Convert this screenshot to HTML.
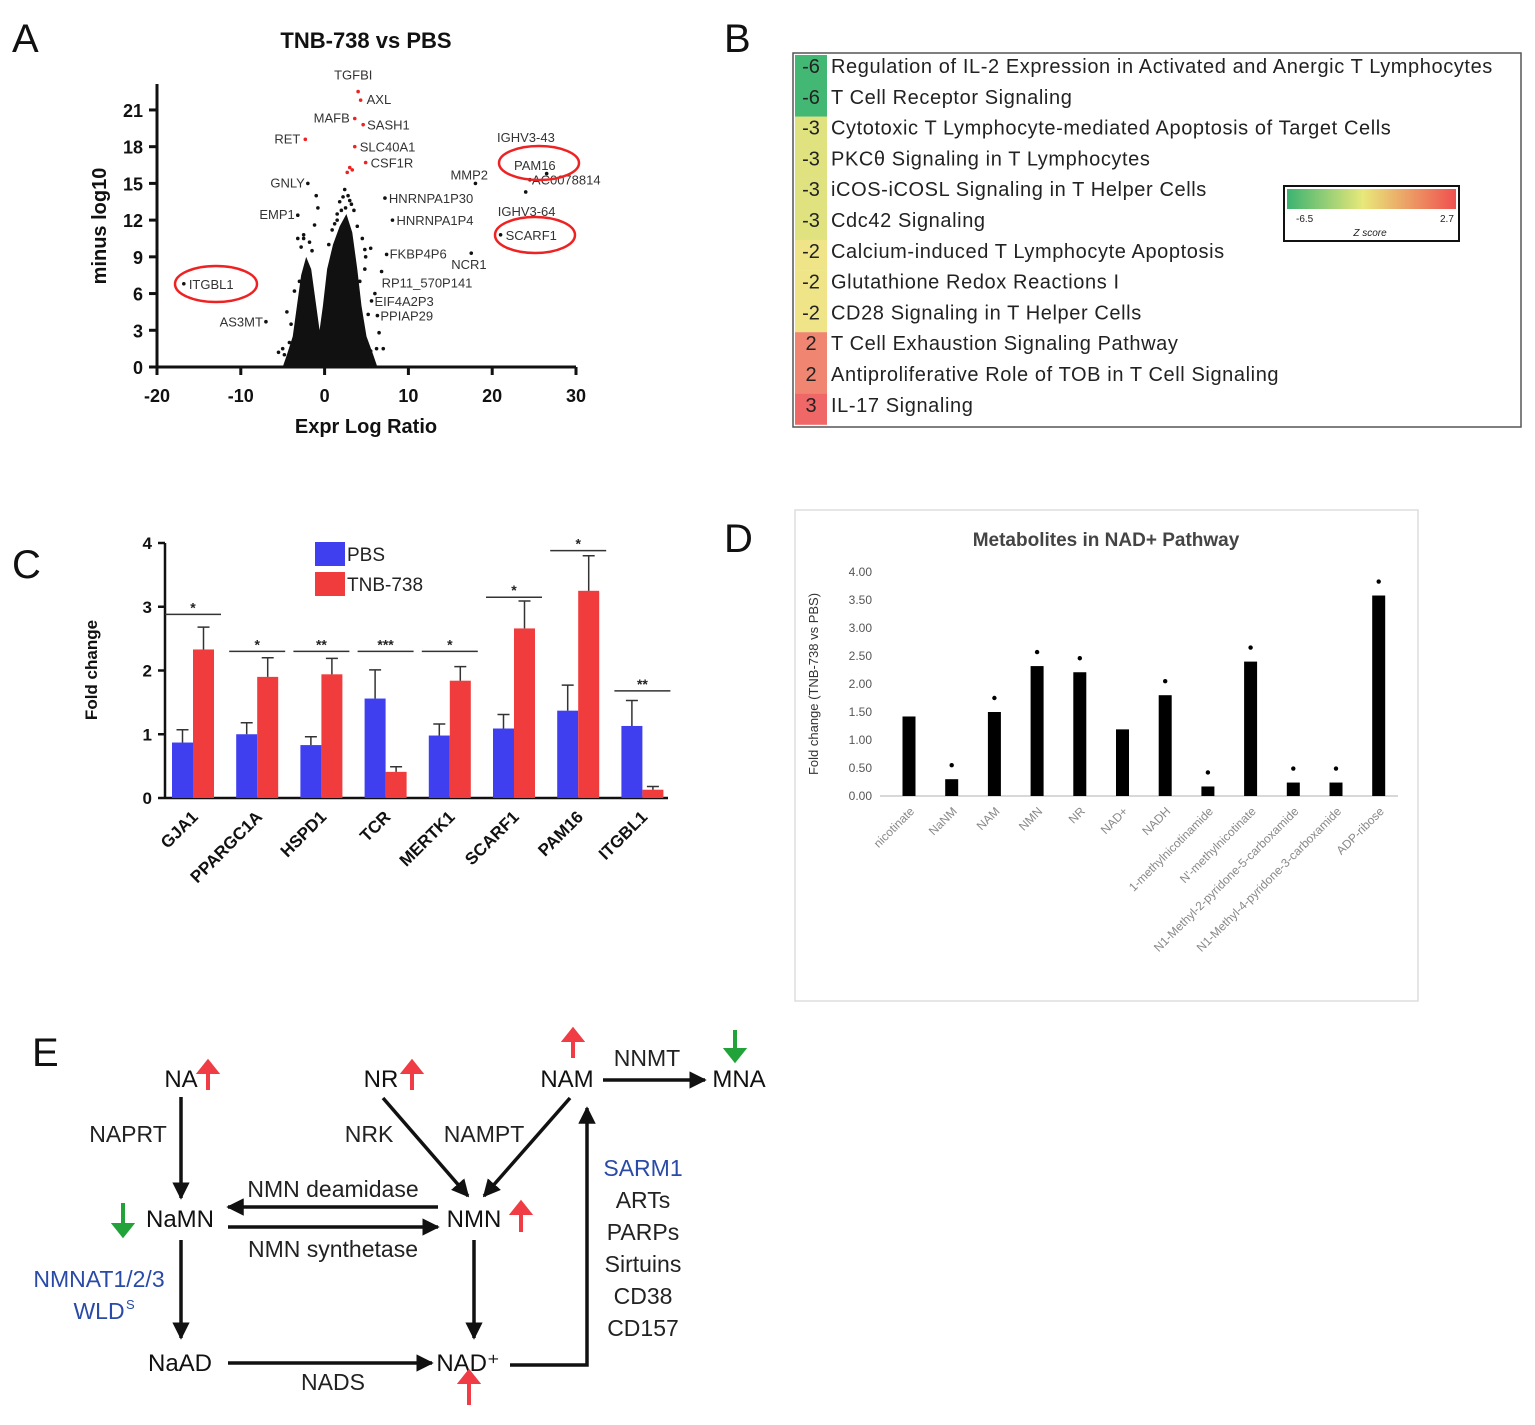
<!DOCTYPE html>
<html><head><meta charset="utf-8"><style>
body{margin:0;background:#fff}
svg{display:block;font-family:"Liberation Sans",Arial,sans-serif}
</style></head><body>
<svg id="fig" width="1535" height="1425" viewBox="0 0 1535 1425">
<defs>
<marker id="ah" viewBox="0 0 10 10" refX="9" refY="5" markerWidth="5" markerHeight="5" orient="auto"><path d="M0,0L10,5L0,10z" fill="#111"/></marker>
<linearGradient id="zg" x1="0" x2="1"><stop offset="0" stop-color="#3cb371"/><stop offset="0.45" stop-color="#e8e87a"/><stop offset="1" stop-color="#f05050"/></linearGradient>
</defs>
<g id="pa"></g>
<g id="pb"></g>
<g id="pc"></g>
<g id="pd"></g>
<g id="pe"></g>
</svg>
<script>
// ---- Panel A data ----
const volXTicks=[-20,-10,0,10,20,30];
const volYTicks=[0,3,6,9,12,15,18,21];
const volLabX=[4,4.3,3.6,4.6,-2.3,3.6,4.9,-2,-3.2,7.2,8.1,18,24.5,24,21,17.5,7.4,6.8,5.6,6.3,-16.8,-7];
const volLabY=[22.5,21.8,20.3,19.8,18.6,18,16.7,15,12.4,13.8,12,15,15.3,14.3,10.8,9.3,9.2,7.8,5.4,4.2,6.8,3.7];
const volLabText=["TGFBI","AXL","MAFB","SASH1","RET","SLC40A1","CSF1R","GNLY","EMP1","HNRNPA1P30","HNRNPA1P4","MMP2","AC0078814","IGHV3-64","SCARF1","NCR1","FKBP4P6","RP11_570P141","EIF4A2P3","PPIAP29","ITGBL1","AS3MT"];
const volLabRed=[1,1,1,1,1,1,1,0,0,0,0,0,0,0,0,0,0,0,0,0,0,0];
const volExtraX=[3,2.7,3.3,-1,-1.2,-3,-4.5,-5,-2.5,5.5,6,7,6.5,4.8,-0.8,-3.8,2.5,1.5,-3.2,-2.5,-2.8,-1.8,-3.6,-4,-4.8,-5.5,-4.2,-1.5,2.4,2.8,3.2,1.8,2,3.5,3.9,4.5,4.8,1.2,0.9,4.2,5.2,6.2,5.5,4.9,2.2,3,1.5,0.5];
const volExtraY=[16.3,15.9,16.1,14,11.6,7,4.5,1.5,10.5,9.7,6,1.5,2.8,8,13,2,13,12,10.5,10.8,9.8,10.2,6.2,3.5,1,1.2,2,9.5,14.5,14,13.3,13.5,12.8,12.8,11.5,10.5,9.6,11.7,11.2,7,4.3,1.5,1.3,9,13.9,13.6,12.5,10];
const volExtraRed=[1,1,1,0,0,0,0,0,0,0,0,0,0,0,0,0,0,0,0,0,0,0,0,0,0,0,0,0,0,0,0,0,0,0,0,0,0,0,0,0,0,0,0,0,0,0,0,0];
// ---- Panel B data ----
const pwScores=[-6,-6,-3,-3,-3,-3,-2,-2,-2,2,2,3];
const pwNames=["Regulation of IL-2 Expression in Activated and Anergic T Lymphocytes","T Cell Receptor Signaling","Cytotoxic T Lymphocyte-mediated Apoptosis of Target Cells","PKCθ Signaling in T Lymphocytes","iCOS-iCOSL Signaling in T Helper Cells","Cdc42 Signaling","Calcium-induced T Lymphocyte Apoptosis","Glutathione Redox Reactions I","CD28 Signaling in T Helper Cells","T Cell Exhaustion Signaling Pathway","Antiproliferative Role of TOB in T Cell Signaling","IL-17 Signaling"];
// ---- Panel C data ----
const genes=["GJA1","PPARGC1A","HSPD1","TCR","MERTK1","SCARF1","PAM16","ITGBL1"];
const pbsVals=[0.87,1.0,0.83,1.56,0.98,1.09,1.37,1.13];
const pbsErr=[0.2,0.18,0.13,0.45,0.18,0.22,0.4,0.4];
const tnbVals=[2.33,1.9,1.94,0.41,1.84,2.66,3.25,0.13];
const tnbErr=[0.35,0.3,0.25,0.08,0.22,0.43,0.55,0.05];
const sigStars=["*","*","**","***","*","*","*","**"];
const sigLevel=[2.88,2.3,2.3,2.3,2.3,3.15,3.88,1.68];
const fcTicks=[0,1,2,3,4];
// ---- Panel D data ----
const metNames=["nicotinate","NaNM","NAM","NMN","NR","NAD+","NADH","1-methylnicotinamide","N'-methylnicotinate","N1-Methyl-2-pyridone-5-carboxamide","N1-Methyl-4-pyridone-3-carboxamide","ADP-ribose"];
const metVals=[1.42,0.3,1.5,2.32,2.21,1.19,1.8,0.17,2.4,0.24,0.24,3.58];
const metSig=[0,1,1,1,1,0,1,1,1,1,1,1];
const metTicks=[0,0.5,1,1.5,2,2.5,3,3.5,4];

const NS="http://www.w3.org/2000/svg";
function mk(parent,tag,attrs,text){const e=document.createElementNS(NS,tag);for(const k in attrs)e.setAttribute(k,attrs[k]);if(text!==undefined)e.textContent=text;parent.appendChild(e);return e;}
function T(p,x,y,s,opt){const o=Object.assign({x:x,y:y,'font-size':16,fill:'#222'},opt||{});return mk(p,'text',o,s);}

// ===== Panel A =====
const A=document.getElementById('pa');
const ax=v=>157+(v+20)*8.38, ay=v=>367-v*12.24;
let t=T(A,12,52,"A",{'font-size':40,fill:'#111'});
t=T(A,366,48,"TNB-738 vs PBS",{'font-size':22,'font-weight':'bold','text-anchor':'middle',fill:'#111'});
let l=mk(A,'line',{x1:157,y1:84,x2:157,y2:367,stroke:'#111','stroke-width':3});
l=mk(A,'line',{x1:157,y1:367,x2:576,y2:367,stroke:'#111','stroke-width':3});
volXTicks.forEach(v=>{mk(A,'line',{x1:ax(v),y1:367,x2:ax(v),y2:375,stroke:'#111','stroke-width':3});
 t=T(A,ax(v),402,String(v),{'font-size':18,'font-weight':'bold','text-anchor':'middle',fill:'#111'});});
volYTicks.forEach(v=>{mk(A,'line',{x1:149,y1:ay(v),x2:157,y2:ay(v),stroke:'#111','stroke-width':3});
 t=T(A,143,ay(v)+7,String(v),{'font-size':18,'font-weight':'bold','text-anchor':'end',fill:'#111'});});
t=T(A,0,0,"minus log10",{'font-size':20,'font-weight':'bold','text-anchor':'middle',fill:'#111',transform:'translate(106,226) rotate(-90)'});
t=T(A,366,433,"Expr Log Ratio",{'font-size':20,'font-weight':'bold','text-anchor':'middle',fill:'#111'});
const cloud=[[-5,0],[-4.5,1],[-3.8,2.5],[-3.3,5],[-2.8,7.5],[-2.2,9],[-1.6,8],[-1,5],[-0.6,3],[-0.2,5],[0.3,8],[1,10],[1.8,11.5],[2.6,12.5],[3.3,11],[3.9,8],[4.4,5],[5,2.5],[5.8,1],[6.3,0]];
let p=mk(A,'path',{d:'M'+cloud.map(c=>ax(c[0])+','+ay(c[1])).join(' L')+' Z',fill:'#111'});

volExtraX.forEach((v,i)=>{const c=mk(A,'circle',{cx:ax(v),cy:ay(volExtraY[i]),r:1.8,fill:volExtraRed[i]?'#e22':'#111'});});
const labOff={TGFBI:[-24,-12,'start'],AXL:[6,4,'start'],MAFB:[-5,4,'end'],SASH1:[4,5,'start'],RET:[-5,4,'end'],SLC40A1:[5,5,'start'],CSF1R:[5,5,'start'],GNLY:[-3,4,'end'],EMP1:[-3,4,'end'],HNRNPA1P30:[4,5,'start'],HNRNPA1P4:[4,5,'start'],MMP2:[-25,-4,'start'],AC0078814:[2,5,'start'],SCARF1:[5,5,'start'],NCR1:[-20,16,'start'],FKBP4P6:[3,4,'start'],RP11_570P141:[0,16,'start'],EIF4A2P3:[3,5,'start'],PPIAP29:[3,5,'start'],ITGBL1:[5,5,'start'],AS3MT:[-3,5,'end']};
labOff['IGHV3-64']=[-28,24,'start'];
volLabX.forEach((v,i)=>{const c=mk(A,'circle',{cx:ax(v),cy:ay(volLabY[i]),r:1.8,fill:volLabRed[i]?'#e22':'#111'});
 const o=labOff[volLabText[i]]||[4,5,'start'];
 const tt=T(A,ax(v)+o[0],ay(volLabY[i])+o[1],volLabText[i],{'font-size':13,'text-anchor':o[2],fill:'#333'});});
t=T(A,497,142,"IGHV3-43",{'font-size':13,fill:'#333'});
t=T(A,514,170,"PAM16",{'font-size':13,fill:'#333'});
mk(A,'circle',{cx:ax(26.5),cy:ay(15.8),r:1.8,fill:'#111'});
[[539,163,40,17],[535,235,40,18],[216,284,41,18]].forEach(e=>{const el=mk(A,'ellipse',{cx:e[0],cy:e[1],rx:e[2],ry:e[3],fill:'none',stroke:'#e22','stroke-width':2.5});});

// ===== Panel B =====
const B=document.getElementById('pb');
t=T(B,724,52,"B",{'font-size':40,fill:'#111'});
let r=mk(B,'rect',{x:793,y:53,width:728,height:374,fill:'#fff',stroke:'#555','stroke-width':1.5});
const zcol=s=>s<=-6?'#43b774':s<=-3?'#dfe27e':s<0?'#efe588':s<3?'#f08672':'#f06767';
pwScores.forEach((s,i)=>{const y=51+i*30.8;
 const c=mk(B,'rect',{x:795,y:y+4,width:32,height:31,fill:zcol(s)});
 let a=T(B,811,y+22,String(s),{'font-size':20,'text-anchor':'middle',fill:'#222'});
 a=T(B,831,y+22,pwNames[i],{'font-size':20,'letter-spacing':0.6,fill:'#222'});});
r=mk(B,'rect',{x:1284,y:186,width:175,height:55,fill:'#fff',stroke:'#111','stroke-width':2});
mk(B,'rect',{x:1287,y:189,width:169,height:20,fill:'url(#zg)'});
T(B,1296,222,"-6.5",{'font-size':10});T(B,1440,222,"2.7",{'font-size':10});T(B,1370,236,"Z score",{'font-size':10,'text-anchor':'middle','font-style':'italic'});

// ===== Panel C =====
const C=document.getElementById('pc');
const cy=v=>798-v*63.75;
t=T(C,12,578,"C",{'font-size':40,fill:'#111'});
mk(C,'line',{x1:165,y1:543,x2:165,y2:799,stroke:'#111','stroke-width':2.5});
mk(C,'line',{x1:165,y1:798,x2:668,y2:798,stroke:'#111','stroke-width':2.5});
fcTicks.forEach(v=>{mk(C,'line',{x1:158,y1:cy(v),x2:165,y2:cy(v),stroke:'#111','stroke-width':2.5});
 const a=T(C,152,cy(v)+6,String(v),{'font-size':17,'font-weight':'bold','text-anchor':'end',fill:'#111'});});
t=T(C,0,0,"Fold change",{'font-size':17,'font-weight':'bold','text-anchor':'middle',fill:'#111',transform:'translate(97,670) rotate(-90)'});
genes.forEach((g,i)=>{const cx=193+i*64.2;
 const b1=mk(C,'rect',{x:cx-21,y:cy(pbsVals[i]),width:21,height:798-cy(pbsVals[i]),fill:'#3f3ff0'});
 const b2=mk(C,'rect',{x:cx,y:cy(tnbVals[i]),width:21,height:798-cy(tnbVals[i]),fill:'#f03c3c'});
 [[cx-10.5,pbsVals[i],pbsErr[i]],[cx+10.5,tnbVals[i],tnbErr[i]]].forEach(e=>{const y1=cy(e[1]),y2=cy(e[1]+e[2]);
  const el=mk(C,'path',{d:`M${e[0]},${y1}V${y2}M${e[0]-6},${y2}H${e[0]+6}`,stroke:'#333','stroke-width':1.5,fill:'none'});});
 const sy=cy(sigLevel[i]);
 const sl=mk(C,'line',{x1:cx-28,y1:sy,x2:cx+28,y2:sy,stroke:'#333','stroke-width':1.5});
 let a=T(C,cx,sy-2,sigStars[i],{'font-size':14,'font-weight':'bold','text-anchor':'middle',fill:'#222'});
 a=T(C,0,0,g,{'font-size':17,'font-weight':'bold','text-anchor':'end',fill:'#111',transform:`translate(${cx+6},${818}) rotate(-45)`});});
r=mk(C,'rect',{x:315,y:542,width:30,height:24,fill:'#3f3ff0'});
r=mk(C,'rect',{x:315,y:572,width:30,height:24,fill:'#f03c3c'});
t=T(C,347,561,"PBS",{'font-size':19,fill:'#222'});
t=T(C,347,591,"TNB-738",{'font-size':19,fill:'#222'});

// ===== Panel D =====
const D=document.getElementById('pd');
const dy=v=>796-v*56;
t=T(D,724,552,"D",{'font-size':40,fill:'#111'});
r=mk(D,'rect',{x:795,y:510,width:623,height:491,fill:'#fff',stroke:'#ddd','stroke-width':1.5});
t=T(D,1106,546,"Metabolites in NAD+ Pathway",{'font-size':19,'font-weight':'bold','text-anchor':'middle',fill:'#444'});
mk(D,'line',{x1:880,y1:796,x2:1398,y2:796,stroke:'#ccc','stroke-width':1.5});
metTicks.forEach(v=>{const a=T(D,872,dy(v)+4,v.toFixed(2),{'font-size':12,'text-anchor':'end',fill:'#555'});});
t=T(D,0,0,"Fold change (TNB-738 vs PBS)",{'font-size':13,'text-anchor':'middle',fill:'#333',transform:'translate(818,684) rotate(-90)'});
metNames.forEach((n,i)=>{const cx=909+i*42.7;
 const b=mk(D,'rect',{x:cx-6.5,y:dy(metVals[i]),width:13,height:796-dy(metVals[i]),fill:'#000'});
 if(metSig[i]){const c=mk(D,'circle',{cx:cx,cy:dy(metVals[i])-14,r:2.2,fill:'#000'});}
 const a=T(D,0,0,n,{'font-size':12,'text-anchor':'end',fill:'#888',transform:`translate(${cx+6},${812}) rotate(-45)`});});

// ===== Panel E =====
const E=document.getElementById('pe');
t=T(E,32,1066,"E",{'font-size':40,fill:'#111'});
const nodes=[["NA",181,1087,"node-na"],["NR",381,1087,"node-nr"],["NAM",567,1087,"node-nam"],["MNA",739,1087,"node-mna"],["NaMN",180,1227,"node-namn"],["NMN",474,1227,"node-nmn"],["NaAD",180,1371,"node-naad"],["NAD⁺",468,1371,"node-nad"]];
nodes.forEach(n=>{const a=T(E,n[1],n[2],n[0],{'font-size':24,'text-anchor':'middle',fill:'#111'});});
const labels=[["NAPRT",128,1142,"#222"],["NRK",369,1142,"#222"],["NAMPT",484,1142,"#222"],["NNMT",647,1066,"#222"],["NMN deamidase",333,1197,"#222"],["NMN synthetase",333,1257,"#222"],["NMNAT1/2/3",99,1287,"#2a4aa8"],["NADS",333,1390,"#222"],["SARM1",643,1176,"#2a4aa8"],["ARTs",643,1208,"#222"],["PARPs",643,1240,"#222"],["Sirtuins",643,1272,"#222"],["CD38",643,1304,"#222"],["CD157",643,1336,"#222"]];
labels.forEach(n=>{const a=T(E,n[1],n[2],n[0],{'font-size':23,'text-anchor':'middle',fill:n[3]});});
t=T(E,99,1319,"WLD",{'font-size':23,'text-anchor':'middle',fill:'#2a4aa8'});
T(E,126,1309,"S",{'font-size':13,fill:'#2a4aa8'});
const arrows=[[181,1097,181,1198],[383,1098,468,1196],[570,1098,484,1196],[603,1080,705,1080],[438,1207,228,1207],[228,1227,438,1227],[181,1240,181,1338],[474,1240,474,1338],[228,1363,432,1363]];
arrows.forEach(a=>{const el=mk(E,'line',{x1:a[0],y1:a[1],x2:a[2],y2:a[3],stroke:'#111','stroke-width':3.5,'marker-end':'url(#ah)'});});
let pp=mk(E,'path',{d:'M510,1365H587V1108',stroke:'#111','stroke-width':3.5,fill:'none','marker-end':'url(#ah)'});
function ud(x,y1,y2,col,name){const up=y2<y1;const h=up?10:-10;
 const el=mk(E,'path',{d:`M${x},${y1}V${y2+h} M${x-8},${y2+h}L${x},${y2}L${x+8},${y2+h}Z`,stroke:col,'stroke-width':4,fill:col});}
ud(208,1090,1062,'#f03c44','up-arrow-na');ud(412,1090,1062,'#f03c44','up-arrow-nr');ud(573,1058,1030,'#f03c44','up-arrow-nam');
ud(735,1030,1060,'#22a33a','down-arrow-mna');ud(123,1203,1235,'#22a33a','down-arrow-namn');
ud(521,1232,1203,'#f03c44','up-arrow-nmn');ud(469,1405,1372,'#f03c44','up-arrow-nad');
</script>
</body></html>
